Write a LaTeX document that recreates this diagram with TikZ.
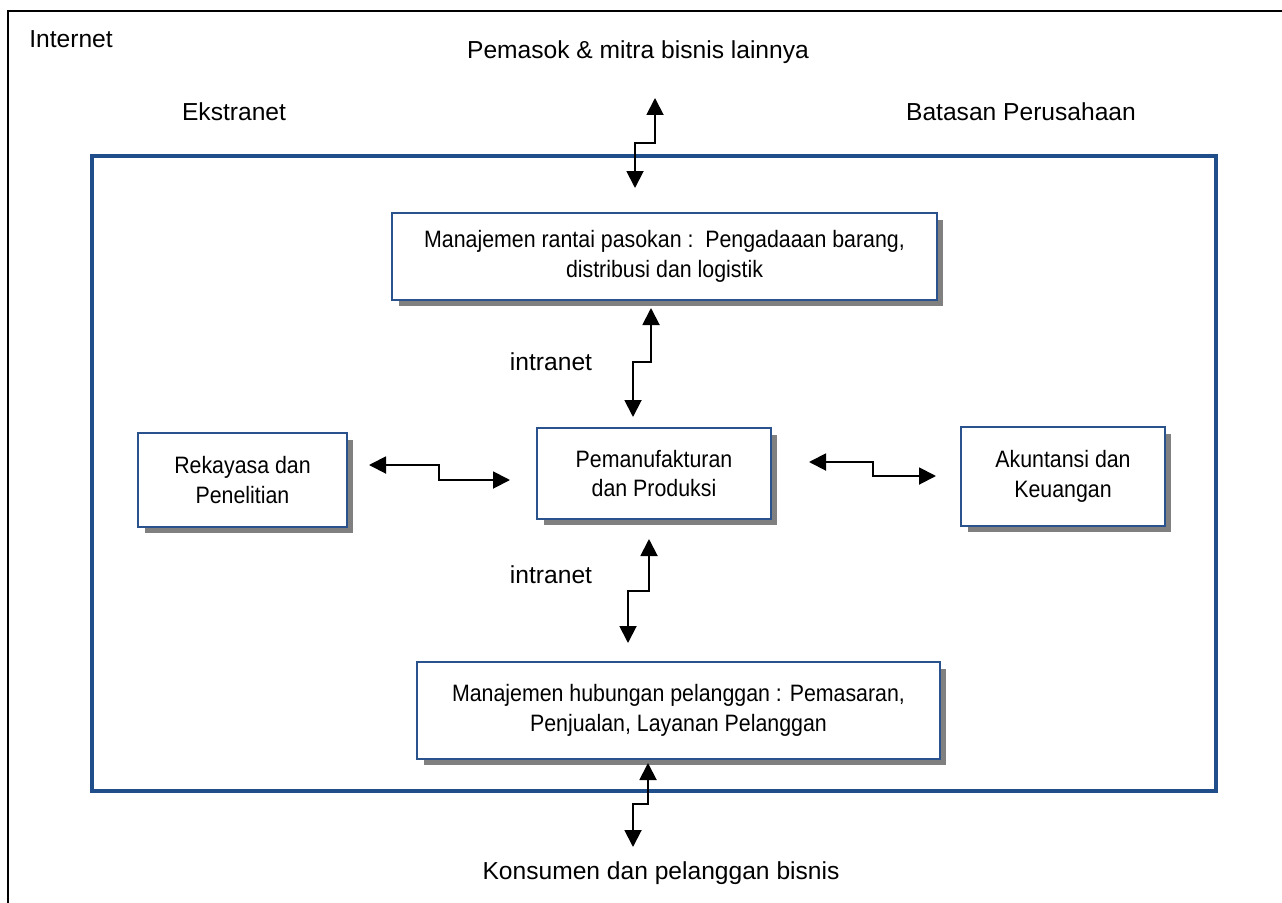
\documentclass[tikz,border=0pt]{standalone}
\usepackage{fontspec}
\setmainfont{Liberation Sans}
\newfontfamily\narrowsans{Liberation Sans}[FakeStretch=0.9]
\usetikzlibrary{arrows.meta, shadows}
\definecolor{frameblue}{RGB}{31,78,138}
\definecolor{boxblue}{RGB}{42,82,140}
\tikzset{
	box/.style={draw=boxblue, line width=1pt, fill=white, align=center, inner sep=2pt,
		font=\narrowsans\fontsize{13.5}{17}\selectfont,
		drop shadow={shadow xshift=0.13cm, shadow yshift=-0.13cm, fill=black!50, opacity=1}},
	lbl/.style={inner sep=0pt, font=\fontsize{14}{17}\selectfont},
	link/.style={<->, >={Triangle[length=0.34cm, width=0.34cm]}, line width=1.1pt}
}
\begin{document}
\begin{tikzpicture}[x=0.02cm, y=-0.02cm]
			\useasboundingbox (0, 0) rectangle (1282, 903);
			\draw[line width=0.8pt] (8, 903) -- (8, 11) -- (1282, 11);
			\draw[frameblue, line width=1.9pt] (92, 156) rectangle (1216, 791);
			\node[lbl, anchor=west] (inet) at (29, 39) {Internet};
			\node[lbl] (sup) at (638, 52) {Pemasok \& mitra bisnis lainnya};
			\node[lbl] (ext) at (234, 112) {Ekstranet};
			\node[lbl] (bound) at (1021, 112) {Batasan Perusahaan};
			\node[lbl] (intra1) at (551, 362) {intranet};
			\node[lbl] (intra2) at (551, 575) {intranet};
			\node[lbl] (cust) at (661, 873) {Konsumen dan pelanggan bisnis};
			\node[box, minimum width=10.9cm, minimum height=1.74cm] (scm) at (664.5, 256.5) {Manajemen rantai pasokan :~~Pengadaaan barang,\\distribusi dan logistik};
			\node[box, minimum width=4.68cm, minimum height=1.82cm] (prod) at (654, 473.5) {Pemanufakturan\\dan Produksi};
			\node[box, minimum width=4.18cm, minimum height=1.88cm] (rnd) at (242.5, 480) {Rekayasa dan\\Penelitian};
			\node[box, minimum width=4.08cm, minimum height=1.98cm] (fin) at (1063, 476.5) {Akuntansi dan\\Keuangan};
			\node[box, minimum width=10.46cm, minimum height=1.94cm] (crm) at (678.5, 710.5) {Manajemen hubungan pelanggan : Pemasaran,\\Penjualan, Layanan Pelanggan};
			\coordinate (x1a) at (635, 188); \coordinate (x1b) at (655, 98);
			\coordinate (i1a) at (651, 308); \coordinate (i1b) at (633, 417);
			\coordinate (h1a) at (369, 465); \coordinate (h1b) at (510, 480);
			\coordinate (h2a) at (809, 462); \coordinate (h2b) at (936, 476);
			\coordinate (i2a) at (649, 539); \coordinate (i2b) at (628, 643);
			\coordinate (x2a) at (648, 763); \coordinate (x2b) at (633, 847);
			\draw[link] (x1a) -- ++(0, -45) -| (x1b);
			\draw[link] (i1a) -- ++(0, 54) -| (i1b);
			\draw[link] (h1a) -- ++(70, 0) |- (h1b);
			\draw[link] (h2a) -- ++(64, 0) |- (h2b);
			\draw[link] (i2a) -- ++(0, 52) -| (i2b);
			\draw[link] (x2a) -- ++(0, 41) -| (x2b);
		\end{tikzpicture}
\end{document}
